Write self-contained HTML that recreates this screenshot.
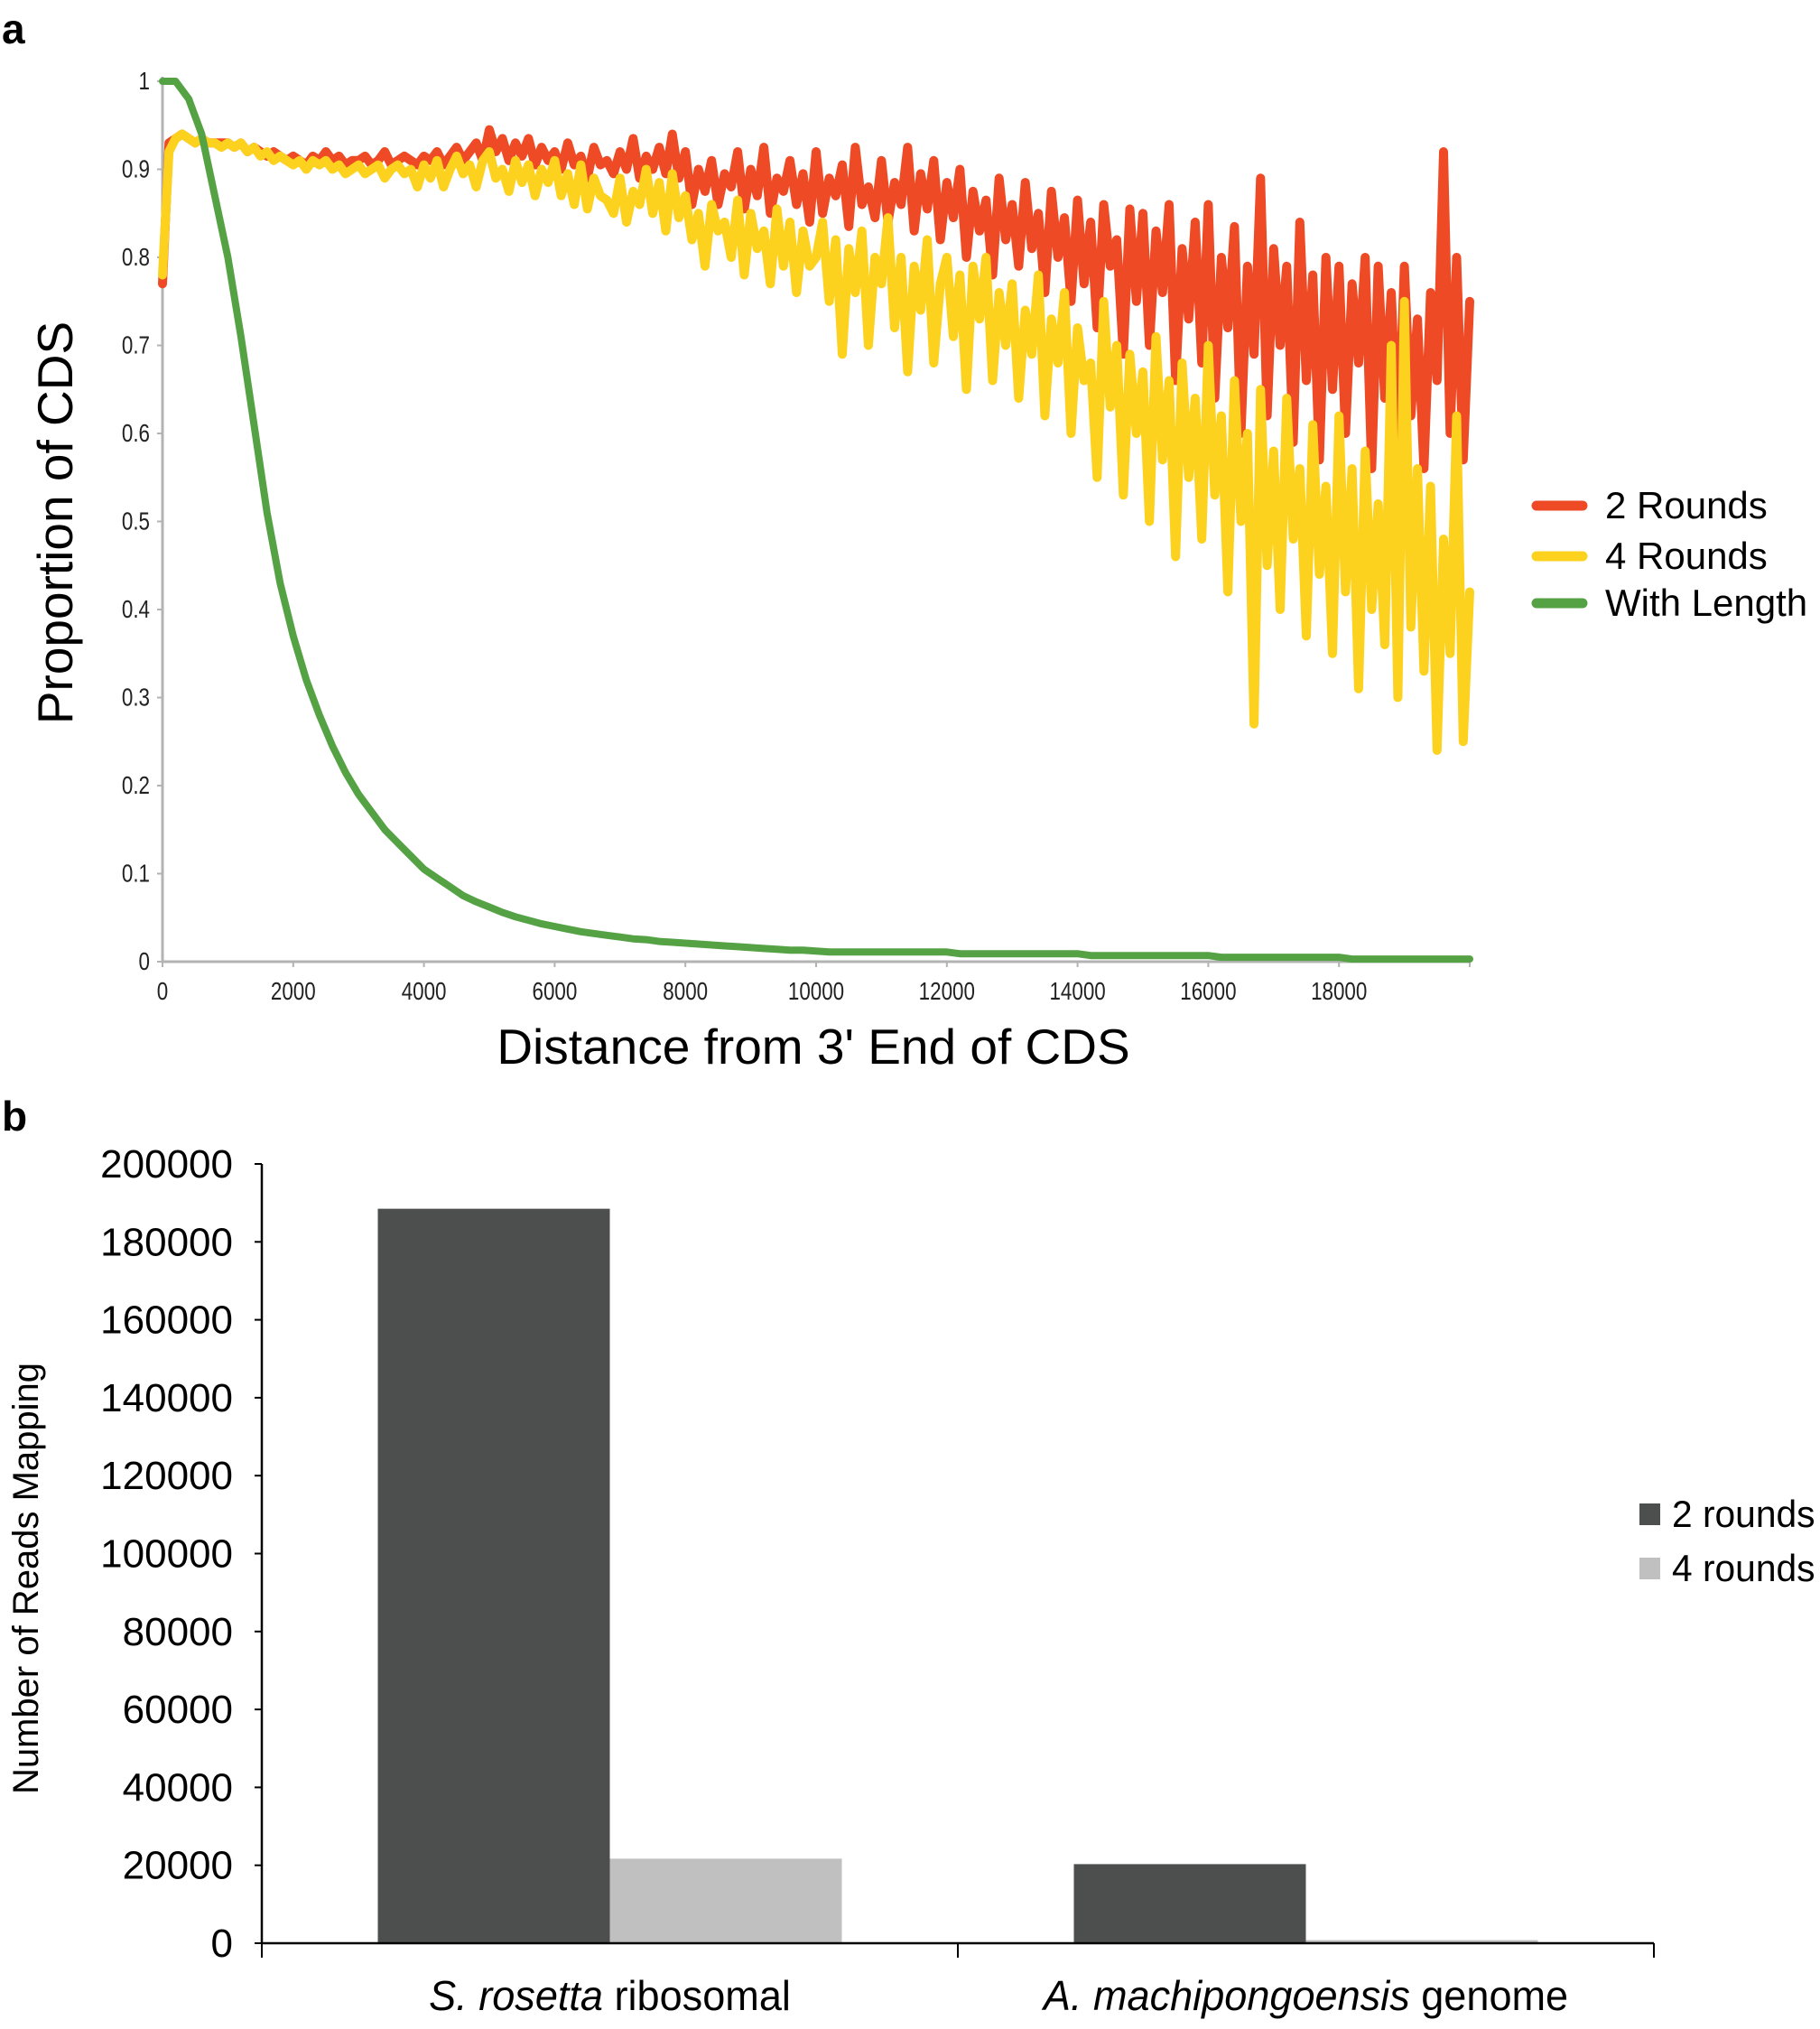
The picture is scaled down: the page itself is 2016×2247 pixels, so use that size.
<!DOCTYPE html>
<html><head><meta charset="utf-8"><style>
html,body{margin:0;padding:0;background:#fff;}
svg{display:block;}
text{font-family:"Liberation Sans",sans-serif;}
</style></head><body>
<svg id="fig" width="2016" height="2247" viewBox="0 0 2016 2247" xmlns="http://www.w3.org/2000/svg">
<text x="2" y="48" font-size="46" font-weight="bold">a</text>
<text x="2" y="1252" font-size="46" font-weight="bold">b</text>
<g id="pa"></g>
<g id="pb"></g>
</svg>
<script>
// ---------- Panel a data ----------
const aXStep = 100;
const redVals = [0.77,0.93,0.935,0.94,0.935,0.93,0.935,0.93,0.93,0.93,
0.93,0.925,0.93,0.92,0.925,0.92,0.915,0.92,0.915,0.91,
0.915,0.91,0.905,0.915,0.91,0.92,0.91,0.915,0.905,0.91,
0.91,0.915,0.905,0.91,0.92,0.905,0.91,0.915,0.91,0.905,
0.915,0.91,0.92,0.905,0.915,0.925,0.91,0.92,0.93,0.91,
0.945,0.92,0.935,0.91,0.93,0.915,0.935,0.905,0.925,0.91,
0.92,0.90,0.93,0.905,0.915,0.89,0.925,0.905,0.91,0.895,
0.92,0.90,0.935,0.89,0.915,0.90,0.925,0.895,0.94,0.89,
0.92,0.86,0.90,0.875,0.91,0.86,0.895,0.88,0.92,0.855,
0.90,0.87,0.925,0.85,0.89,0.875,0.91,0.86,0.895,0.84,
0.92,0.85,0.89,0.87,0.905,0.835,0.925,0.86,0.88,0.845,
0.91,0.84,0.885,0.86,0.925,0.83,0.895,0.855,0.91,0.82,
0.885,0.845,0.90,0.80,0.875,0.83,0.865,0.78,0.89,0.82,
0.86,0.79,0.885,0.81,0.85,0.76,0.875,0.80,0.845,0.75,
0.865,0.77,0.84,0.72,0.86,0.79,0.82,0.69,0.855,0.75,
0.85,0.70,0.83,0.76,0.86,0.66,0.81,0.73,0.84,0.68,
0.86,0.64,0.80,0.72,0.835,0.60,0.79,0.69,0.89,0.62,
0.81,0.70,0.79,0.59,0.84,0.66,0.78,0.57,0.80,0.65,
0.79,0.60,0.77,0.68,0.80,0.56,0.79,0.64,0.76,0.58,
0.79,0.62,0.73,0.56,0.76,0.66,0.92,0.60,0.80,0.57,
0.75];
const yellowVals = [0.78,0.92,0.935,0.94,0.935,0.93,0.935,0.93,0.93,0.925,
0.93,0.925,0.93,0.92,0.925,0.915,0.92,0.91,0.915,0.91,
0.905,0.91,0.90,0.91,0.905,0.91,0.90,0.905,0.895,0.90,
0.905,0.895,0.90,0.905,0.89,0.90,0.905,0.895,0.90,0.88,
0.905,0.89,0.91,0.88,0.90,0.915,0.895,0.905,0.88,0.91,
0.92,0.89,0.90,0.875,0.91,0.885,0.905,0.87,0.90,0.885,
0.91,0.87,0.895,0.86,0.905,0.855,0.89,0.87,0.865,0.85,
0.89,0.84,0.875,0.86,0.90,0.85,0.885,0.83,0.895,0.845,
0.87,0.82,0.85,0.79,0.86,0.83,0.84,0.80,0.865,0.78,
0.85,0.81,0.83,0.77,0.855,0.79,0.84,0.76,0.83,0.79,
0.80,0.84,0.75,0.82,0.69,0.81,0.76,0.83,0.70,0.80,
0.77,0.845,0.72,0.80,0.67,0.79,0.74,0.82,0.68,0.77,
0.80,0.71,0.78,0.65,0.79,0.73,0.80,0.66,0.76,0.70,
0.77,0.64,0.74,0.69,0.78,0.62,0.73,0.68,0.76,0.60,
0.72,0.66,0.68,0.55,0.75,0.63,0.70,0.53,0.69,0.60,
0.67,0.50,0.71,0.57,0.66,0.46,0.68,0.55,0.64,0.48,
0.70,0.53,0.62,0.42,0.66,0.50,0.60,0.27,0.65,0.45,
0.58,0.40,0.64,0.48,0.56,0.37,0.61,0.44,0.54,0.35,
0.62,0.42,0.56,0.31,0.58,0.40,0.52,0.36,0.70,0.30,
0.75,0.38,0.56,0.33,0.54,0.24,0.48,0.35,0.62,0.25,
0.42];
const greenXStep = 200;
const greenVals = [1,1,0.98,0.94,0.87,0.80,0.71,0.61,0.51,0.43,
0.37,0.32,0.28,0.245,0.215,0.19,0.17,0.15,0.135,0.12,
0.105,0.095,0.085,0.075,0.068,0.062,0.056,0.051,0.047,0.043,
0.04,0.037,0.034,0.032,0.03,0.028,0.026,0.025,0.023,0.022,
0.021,0.02,0.019,0.018,0.017,0.016,0.015,0.014,0.013,0.013,
0.012,0.011,0.011,0.011,0.011,0.011,0.011,0.011,0.011,0.011,
0.011,0.009,0.009,0.009,0.009,0.009,0.009,0.009,0.009,0.009,
0.009,0.007,0.007,0.007,0.007,0.007,0.007,0.007,0.007,0.007,
0.007,0.005,0.005,0.005,0.005,0.005,0.005,0.005,0.005,0.005,
0.005,0.003,0.003,0.003,0.003,0.003,0.003,0.003,0.003,0.003,0.003];
const aYTicks = ["0","0.1","0.2","0.3","0.4","0.5","0.6","0.7","0.8","0.9","1"];
const aXTicks = ["0","2000","4000","6000","8000","10000","12000","14000","16000","18000"];
const aLegend = ["2 Rounds","4 Rounds","With Length"];

// ---------- Panel b data ----------
const bCategories = ["S. rosetta|ribosomal","A. machipongoensis|genome"];
const bRounds2 = [188500, 20300];
const bRounds4 = [21700, 800];
const bYTicks = [0,20000,40000,60000,80000,100000,120000,140000,160000,180000,200000];
const bLegend = ["2 rounds","4 rounds"];

const NS="http://www.w3.org/2000/svg";
function mk(tag, attrs, parent){const e=document.createElementNS(NS,tag);for(const k in attrs)e.setAttribute(k,attrs[k]);parent.appendChild(e);return e;}

// ---- Panel a ----
const pa=document.getElementById('pa');
const ax0=180, ax1=1628, ay0=1065, ay1=90;
const xA=v=>ax0+(v/20000)*(ax1-ax0);
const yA=v=>ay0-v*(ay0-ay1);
let e;
e=mk('line',{x1:ax0,y1:ay1-5,x2:ax0,y2:ay0,stroke:'#b3b3b3','stroke-width':3},pa);


e=mk('line',{x1:ax0,y1:ay0,x2:ax1,y2:ay0,stroke:'#b3b3b3','stroke-width':3},pa);


aYTicks.forEach((t)=>{const v=parseFloat(t);const y=yA(v);
 const tk=mk('line',{x1:ax0-6,y1:y,x2:ax0,y2:y,stroke:'#b3b3b3','stroke-width':2},pa);
 
 
 const tx=mk('text',{transform:`translate(${ax0-14},${y+9}) scale(0.8,1)`,'font-size':28,'text-anchor':'end',fill:'#222'},pa);
 tx.textContent=t;
 
 
});
aXTicks.forEach((t)=>{const x=xA(parseFloat(t));
 const tk=mk('line',{x1:x,y1:ay0,x2:x,y2:ay0+6,stroke:'#b3b3b3','stroke-width':2},pa);
 
 
 const tx=mk('text',{transform:`translate(${x},${ay0+42}) scale(0.8,1)`,'font-size':28,'text-anchor':'middle',fill:'#222'},pa);
 tx.textContent=t;
 
 
});
e=mk('line',{x1:ax1,y1:ay0,x2:ax1,y2:ay0+6,stroke:'#b3b3b3','stroke-width':2},pa);


e=mk('text',{transform:`translate(80,579) rotate(-90)`,'font-size':55,'text-anchor':'middle',fill:'#000'},pa);
e.textContent='Proportion of CDS';


e=mk('text',{transform:`translate(901,1178) scale(1.0,1)`,'font-size':55,'text-anchor':'middle',fill:'#000'},pa);
e.textContent="Distance from 3' End of CDS";


function series(vals, step, color, w, name){
 const d=vals.map((v,i)=>(i?'L':'M')+xA(i*step).toFixed(1)+','+yA(v).toFixed(1)).join(' ');
 const p=mk('path',{d:d,fill:'none',stroke:color,'stroke-width':w,'stroke-linejoin':'round','stroke-linecap':'round'},pa);
 
 
}
series(redVals,aXStep,'#ee4a25',10,'series-2-rounds');
series(yellowVals,aXStep,'#fcd21f',10,'series-4-rounds');
series(greenVals,greenXStep,'#55a245',8,'series-with-length');
const legColors=['#ee4a25','#fcd21f','#55a245'];
const legY=[560,616,668];
aLegend.forEach((t,i)=>{
 const g=mk('g',{},pa);
 
 
 mk('line',{x1:1702,y1:legY[i],x2:1753,y2:legY[i],stroke:legColors[i],'stroke-width':11,'stroke-linecap':'round'},g);
 const tx=mk('text',{x:1778,y:legY[i]+14,'font-size':42,fill:'#000'},g);
 tx.textContent=t;
});

// ---- Panel b ----
const pb=document.getElementById('pb');
const bx0=290, bx1=1832, by0=2152, by1=1289;
const yB=v=>by0-(v/200000)*(by0-by1);
const catW=(bx1-bx0)/bCategories.length;
const barW=257;
bYTicks.forEach(v=>{const y=yB(v);
 const tk=mk('line',{x1:bx0-8,y1:y,x2:bx0,y2:y,stroke:'#000','stroke-width':2},pb);
 
 
 const tx=mk('text',{transform:`translate(258,${y+15}) scale(1.0,1)`,'font-size':44,'text-anchor':'end',fill:'#000'},pb);
 tx.textContent=String(v);
 
 
});
bCategories.forEach((c,i)=>{
 const cx=bx0+catW*(i+0.5);
 const r1=mk('rect',{x:cx-barW,y:yB(bRounds2[i]),width:barW,height:by0-yB(bRounds2[i]),fill:'#4d4f4e'},pb);
 
 
 const r2=mk('rect',{x:cx,y:yB(bRounds4[i]),width:barW,height:by0-yB(bRounds4[i]),fill:'#c0c0c0'},pb);
 
 
 const parts=c.split('|');
 const tx=mk('text',{transform:`translate(${cx},2226) scale(0.98,1)`,'font-size':46,'text-anchor':'middle',fill:'#000'},pb);
 const it=mk('tspan',{'font-style':'italic'},tx); it.textContent=parts[0];
 const rt=mk('tspan',{},tx); rt.textContent=' '+parts[1];
 
 
});
e=mk('line',{x1:bx0,y1:by1,x2:bx0,y2:by0,stroke:'#000','stroke-width':2.5},pb);


e=mk('line',{x1:bx0,y1:by0,x2:bx1,y2:by0,stroke:'#000','stroke-width':2.5},pb);


for(let i=0;i<=bCategories.length;i++){
 const x=bx0+catW*i;
 const tk=mk('line',{x1:x,y1:by0,x2:x,y2:by0+16,stroke:'#000','stroke-width':2},pb);
 
 
}
e=mk('text',{transform:`translate(42,1748) rotate(-90)`,'font-size':40,'text-anchor':'middle',fill:'#000'},pb);
e.textContent='Number of Reads Mapping';


const bLegColors=['#4d4f4e','#c0c0c0'];
const bLegY=[1677,1737];
bLegend.forEach((t,i)=>{
 const g=mk('g',{},pb);
 
 
 mk('rect',{x:1816,y:bLegY[i]-12,width:23,height:24,fill:bLegColors[i]},g);
 const tx=mk('text',{transform:`translate(1852,${bLegY[i]+14}) scale(0.97,1)`,'font-size':42,fill:'#000'},g);
 tx.textContent=t;
});
</script>
</body></html>
